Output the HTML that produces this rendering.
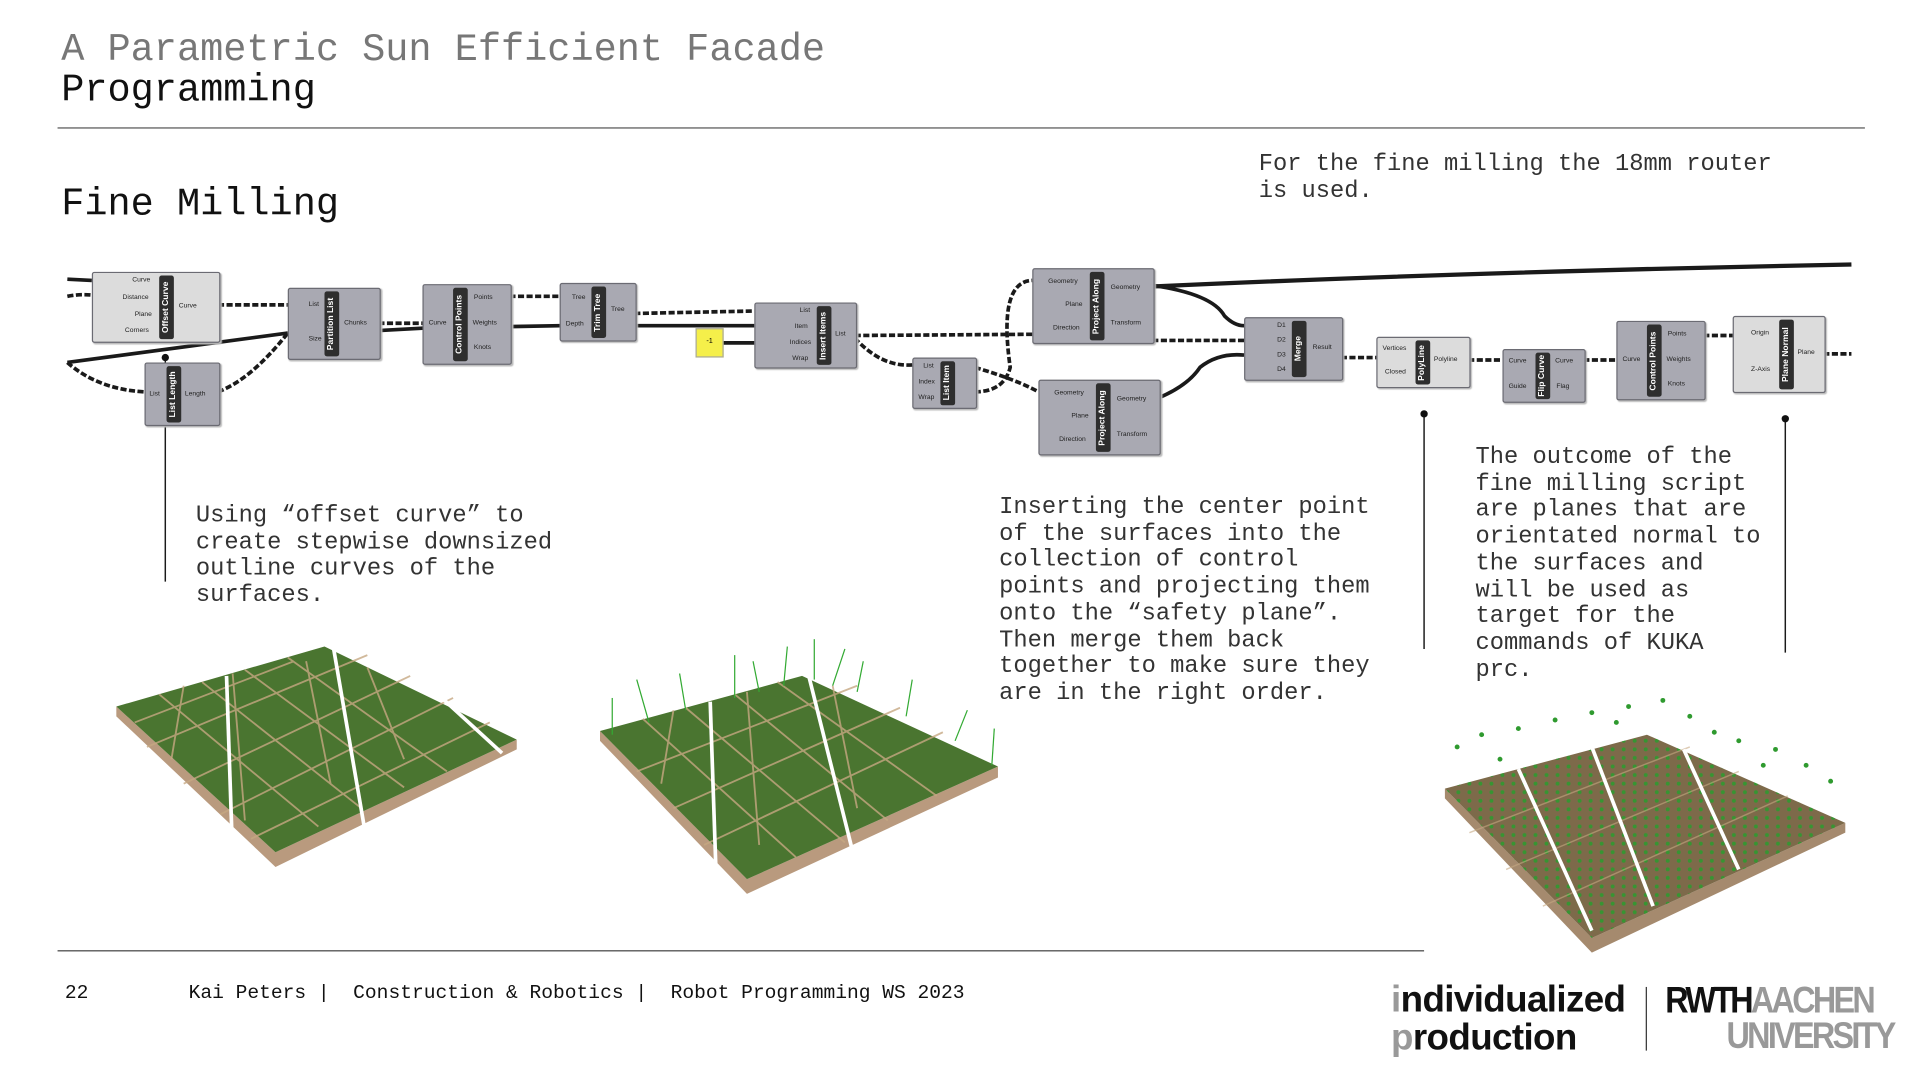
<!DOCTYPE html>
<html><head><meta charset="utf-8"><style>
html,body{margin:0;padding:0;background:#fff;width:1920px;height:1080px;overflow:hidden}
#w{position:absolute;left:0;top:0;width:1568px;height:882px;transform:scale(1.22449);transform-origin:0 0;font-family:"Liberation Mono",monospace}
.t{position:absolute;white-space:pre;color:#333}
.n{position:absolute;background:#a9a9b2;border:1px solid #6b6b73;border-radius:2px;box-shadow:1px 1px 1px #bbb}
.n.l{background:#dcdcdc}
.s{position:absolute;top:2px;bottom:2px;width:12px;background:#2e2e2e;border-radius:2px;color:#fff;font:bold 7px "Liberation Sans",sans-serif;writing-mode:vertical-rl;transform:rotate(180deg);text-align:center;line-height:12px}
.p{position:absolute;font:5.5px "Liberation Sans",sans-serif;color:#222;white-space:nowrap}
</style></head><body><div id="w">
<div class="t" style="left:50px;top:24px;font-size:31.5px;color:#777;line-height:36px">A Parametric Sun Efficient Facade</div>
<div class="t" style="left:50px;top:57px;font-size:31.5px;color:#111;line-height:36px">Programming</div>
<div style="position:absolute;left:47px;top:104px;width:1476px;height:1px;background:#555"></div>
<div class="t" style="left:50px;top:150px;font-size:31.5px;color:#111;line-height:36px">Fine Milling</div>
<div class="t" style="left:1028px;top:123px;font-size:19.4px;line-height:22px">For the fine milling the 18mm router
is used.</div>
<div class="t" style="left:160px;top:411px;font-size:19.4px;line-height:21.7px">Using “offset curve” to
create stepwise downsized
outline curves of the
surfaces.</div>
<div class="t" style="left:816px;top:404px;font-size:19.4px;line-height:21.7px">Inserting the center point
of the surfaces into the
collection of control
points and projecting them
onto the “safety plane”.
Then merge them back
together to make sure they
are in the right order.</div>
<div class="t" style="left:1205px;top:363px;font-size:19.4px;line-height:21.7px">The outcome of the
fine milling script
are planes that are
orientated normal to
the surfaces and
will be used as
target for the
commands of KUKA
prc.</div>

<svg style="position:absolute;left:0;top:0" width="1568" height="882">
<defs>
<pattern id="dots" width="9" height="7" patternUnits="userSpaceOnUse"><circle cx="3" cy="3" r="1.6" fill="#2f9a2f"/></pattern>
</defs>
<g fill="none" stroke="#1a1a1a">
<path d="M55 228 L75 229" stroke-width="3"/>
<path d="M55 242 Q65 240 75 241" stroke-width="3" stroke-dasharray="5 2"/>
<path d="M55 296 L235 272" stroke-width="3"/>
<path d="M55 296 Q80 318 118 320" stroke-width="3" stroke-dasharray="5 2"/>
<path d="M178 320 Q205 310 235 272" stroke-width="3" stroke-dasharray="5 2"/>
<path d="M178 249 L235 249" stroke-width="3" stroke-dasharray="5 2"/>
<path d="M309 264 L345 264" stroke-width="3" stroke-dasharray="5 2"/>
<path d="M309 270 L345 268 L457 266" stroke-width="3"/>
<path d="M416 242 L457 242" stroke-width="3" stroke-dasharray="5 2"/>
<path d="M518 256 L616 254" stroke-width="3" stroke-dasharray="5 2"/>
<path d="M518 266 L616 266" stroke-width="3"/>
<path d="M589 280 L616 280" stroke-width="3"/>
<path d="M698 274 L843 273" stroke-width="3" stroke-dasharray="5 2"/>
<path d="M698 276 Q720 300 745 298" stroke-width="3" stroke-dasharray="5 2"/>
<path d="M796 300 Q830 310 848 320" stroke-width="3" stroke-dasharray="5 2"/>
<path d="M796 320 Q820 320 825 300 Q815 230 843 229" stroke-width="3" stroke-dasharray="5 2"/>
<path d="M941 278 L1016 278" stroke-width="3" stroke-dasharray="5 2"/>
<path d="M941 233 Q990 240 1000 258 Q1008 266 1016 266" stroke-width="3"/>
<path d="M946 325 Q970 315 980 300 Q995 288 1016 290" stroke-width="3"/>
<path d="M941 234 Q1200 222 1512 216" stroke-width="3.5"/>
<path d="M1095 292 L1124 292" stroke-width="3" stroke-dasharray="5 2"/>
<path d="M1199 294 L1227 294" stroke-width="3" stroke-dasharray="5 2"/>
<path d="M1293 294 L1320 294" stroke-width="3" stroke-dasharray="5 2"/>
<path d="M1391 274 L1415 274" stroke-width="3" stroke-dasharray="5 2"/>
<path d="M1489 289 L1512 289" stroke-width="3" stroke-dasharray="5 2"/>
<path d="M135 292 L135 475" stroke-width="1.2"/>
<path d="M1163 338 L1163 530" stroke-width="1.2"/>
<path d="M1458 342 L1458 533" stroke-width="1.2"/>
</g>
<circle cx="135" cy="292" r="3" fill="#111"/><circle cx="1163" cy="338" r="3" fill="#111"/><circle cx="1458" cy="342" r="3" fill="#111"/>

<!-- render 1 -->
<g>
<polygon points="95,585 225,708 422,612 422,604 225,696 95,577" fill="#b99a7e"/>
<polygon points="95,577 265,528 422,604 225,696" fill="#4a7530"/>
<g stroke="#c6a882" stroke-width="1.5" opacity=".8"><path d="M130,567 L260,675"/><path d="M165,557 L295,660"/><path d="M200,547 L330,643"/><path d="M235,537 L365,630"/><path d="M120,610 L300,535"/><path d="M150,640 L335,552"/><path d="M180,665 L370,570"/><path d="M205,685 L400,590"/><path d="M110,590 L240,540"/><path d="M140,620 L150,560"/><path d="M200,670 L190,550"/><path d="M270,640 L250,540"/><path d="M330,620 L300,545"/></g>
<g stroke="#fff" stroke-width="3"><path d="M185,552 L190,700"/><path d="M272,527 L300,690"/><path d="M350,560 L410,615"/></g>
</g>
<!-- render 2 -->
<g>
<polygon points="490,605 610,730 815,635 815,626 610,718 490,597" fill="#b99a7e"/>
<polygon points="490,597 655,552 815,626 610,718" fill="#4a7530"/>
<g stroke="#c6a882" stroke-width="1.5" opacity=".8"><path d="M525,587 L650,700"/><path d="M560,578 L690,688"/><path d="M600,567 L725,670"/><path d="M635,557 L765,650"/><path d="M520,630 L700,560"/><path d="M550,660 L735,578"/><path d="M575,690 L770,598"/><path d="M540,640 L550,580"/><path d="M620,690 L610,565"/><path d="M700,660 L680,560"/></g>
<g stroke="#fff" stroke-width="3"><path d="M580,573 L585,720"/><path d="M660,550 L700,710"/></g>
<g stroke="#3a3" stroke-width="1"><path d="M500,600 L500,570"/><path d="M530,590 L520,555"/><path d="M560,580 L555,550"/><path d="M600,570 L600,535"/><path d="M640,560 L643,528"/><path d="M665,555 L665,522"/><path d="M700,565 L705,540"/><path d="M740,585 L745,555"/><path d="M780,605 L790,580"/><path d="M810,625 L812,595"/><path d="M620,565 L615,540"/><path d="M680,560 L690,530"/></g>
</g>
<!-- render 3 -->
<g>
<polygon points="1180,652 1300,778 1507,680 1507,672 1300,766 1180,644" fill="#a58a6e"/>
<polygon points="1180,644 1345,600 1507,672 1300,766" fill="#7d6a4a"/>
<polygon points="1180,644 1345,600 1507,672 1300,766" fill="url(#dots)" opacity=".9"/>
<g stroke="#c6a882" stroke-width="1.2" opacity=".6"><path d="M1200,680 L1380,610"/><path d="M1230,710 L1420,630"/><path d="M1260,740 L1460,650"/></g>
<g stroke="#fff" stroke-width="3"><path d="M1240,628 L1300,760"/><path d="M1300,610 L1350,740"/><path d="M1375,612 L1420,710"/></g>
<g fill="#2f9a2f"><circle cx="1190" cy="610" r="2"/><circle cx="1210" cy="600" r="2"/><circle cx="1240" cy="595" r="2"/><circle cx="1270" cy="588" r="2"/><circle cx="1300" cy="582" r="2"/><circle cx="1330" cy="577" r="2"/><circle cx="1358" cy="572" r="2"/><circle cx="1380" cy="585" r="2"/><circle cx="1400" cy="598" r="2"/><circle cx="1420" cy="605" r="2"/><circle cx="1450" cy="612" r="2"/><circle cx="1475" cy="625" r="2"/><circle cx="1495" cy="638" r="2"/><circle cx="1225" cy="620" r="2"/><circle cx="1320" cy="590" r="2"/><circle cx="1440" cy="625" r="2"/></g>
</g>
</svg>

<!-- nodes -->
<div class="n l" style="left:75px;top:222px;width:103px;height:56px"><div class="s" style="left:54px">Offset Curve</div>
<span class="p" style="left:32px;top:3px">Curve</span><span class="p" style="left:24px;top:17px">Distance</span><span class="p" style="left:34px;top:31px">Plane</span><span class="p" style="left:26px;top:44px">Corners</span><span class="p" style="left:70px;top:24px">Curve</span></div>
<div class="n" style="left:118px;top:296px;width:60px;height:50px"><div class="s" style="left:17px">List Length</div><span class="p" style="left:3px;top:22px">List</span><span class="p" style="left:32px;top:22px">Length</span></div>
<div class="n" style="left:235px;top:235px;width:74px;height:57px"><div class="s" style="left:29px">Partition List</div><span class="p" style="left:16px;top:10px">List</span><span class="p" style="left:16px;top:38px">Size</span><span class="p" style="left:45px;top:25px">Chunks</span></div>
<div class="n" style="left:345px;top:232px;width:71px;height:64px"><div class="s" style="left:24px">Control Points</div><span class="p" style="left:4px;top:28px">Curve</span><span class="p" style="left:41px;top:7px">Points</span><span class="p" style="left:40px;top:28px">Weights</span><span class="p" style="left:41px;top:48px">Knots</span></div>
<div class="n" style="left:457px;top:231px;width:61px;height:46px"><div class="s" style="left:25px">Trim Tree</div><span class="p" style="left:9px;top:8px">Tree</span><span class="p" style="left:4px;top:30px">Depth</span><span class="p" style="left:41px;top:18px">Tree</span></div>
<div style="position:absolute;left:568px;top:268px;width:21px;height:22px;background:#f5ef4a;border:1px solid #aa9;font:6px sans-serif;text-align:center;line-height:20px">-1</div>
<div class="n" style="left:616px;top:247px;width:82px;height:52px"><div class="s" style="left:50px">Insert Items</div><span class="p" style="left:36px;top:3px">List</span><span class="p" style="left:32px;top:16px">Item</span><span class="p" style="left:28px;top:29px">Indices</span><span class="p" style="left:30px;top:42px">Wrap</span><span class="p" style="left:65px;top:22px">List</span></div>
<div class="n" style="left:745px;top:292px;width:51px;height:40px"><div class="s" style="left:22px">List Item</div><span class="p" style="left:8px;top:3px">List</span><span class="p" style="left:4px;top:16px">Index</span><span class="p" style="left:4px;top:29px">Wrap</span></div>
<div class="n" style="left:843px;top:219px;width:98px;height:60px"><div class="s" style="left:46px">Project Along</div><span class="p" style="left:12px;top:7px">Geometry</span><span class="p" style="left:26px;top:26px">Plane</span><span class="p" style="left:16px;top:45px">Direction</span><span class="p" style="left:63px;top:12px">Geometry</span><span class="p" style="left:63px;top:41px">Transform</span></div>
<div class="n" style="left:848px;top:310px;width:98px;height:60px"><div class="s" style="left:46px">Project Along</div><span class="p" style="left:12px;top:7px">Geometry</span><span class="p" style="left:26px;top:26px">Plane</span><span class="p" style="left:16px;top:45px">Direction</span><span class="p" style="left:63px;top:12px">Geometry</span><span class="p" style="left:63px;top:41px">Transform</span></div>
<div class="n" style="left:1016px;top:259px;width:79px;height:50px"><div class="s" style="left:38px">Merge</div><span class="p" style="left:26px;top:3px">D1</span><span class="p" style="left:26px;top:15px">D2</span><span class="p" style="left:26px;top:27px">D3</span><span class="p" style="left:26px;top:39px">D4</span><span class="p" style="left:55px;top:21px">Result</span></div>
<div class="n l" style="left:1124px;top:275px;width:75px;height:40px"><div class="s" style="left:31px">PolyLine</div><span class="p" style="left:4px;top:6px">Vertices</span><span class="p" style="left:6px;top:25px">Closed</span><span class="p" style="left:46px;top:15px">Polyline</span></div>
<div class="n" style="left:1227px;top:285px;width:66px;height:42px"><div class="s" style="left:26px">Flip Curve</div><span class="p" style="left:4px;top:6px">Curve</span><span class="p" style="left:4px;top:27px">Guide</span><span class="p" style="left:42px;top:6px">Curve</span><span class="p" style="left:43px;top:27px">Flag</span></div>
<div class="n" style="left:1320px;top:262px;width:71px;height:63px"><div class="s" style="left:24px">Control Points</div><span class="p" style="left:4px;top:28px">Curve</span><span class="p" style="left:41px;top:7px">Points</span><span class="p" style="left:40px;top:28px">Weights</span><span class="p" style="left:41px;top:48px">Knots</span></div>
<div class="n l" style="left:1415px;top:258px;width:74px;height:61px"><div class="s" style="left:37px">Plane Normal</div><span class="p" style="left:14px;top:10px">Origin</span><span class="p" style="left:14px;top:40px">Z-Axis</span><span class="p" style="left:52px;top:26px">Plane</span></div>

<div style="position:absolute;left:47px;top:776px;width:1116px;height:1px;background:#444"></div>
<div class="t" style="left:53px;top:802px;font-size:16px;color:#111">22</div>
<div class="t" style="left:154px;top:802px;font-size:16px;color:#111">Kai Peters |  Construction &amp; Robotics |  Robot Programming WS 2023</div>
<div class="t" style="left:1136px;top:801px;font:bold 30px/31px 'Liberation Sans',sans-serif;color:#111;letter-spacing:-0.5px"><span style="color:#999">i</span>ndividualized
<span style="color:#999">p</span>roduction</div>
<div style="position:absolute;left:1344px;top:806px;width:1px;height:52px;background:#333"></div>
<div class="t" style="left:1360px;top:802px;font:bold 30px/31px 'Liberation Sans',sans-serif;letter-spacing:-2.5px;transform:scaleX(0.88);transform-origin:0 0"><span style="color:#111">RWTH</span><span style="color:#999">AACHEN</span></div>
<div class="t" style="left:1410px;top:831px;font:bold 30px/31px 'Liberation Sans',sans-serif;color:#999;letter-spacing:-2.5px;transform:scaleX(0.88);transform-origin:0 0">UNIVERSITY</div>
</div></body></html>
